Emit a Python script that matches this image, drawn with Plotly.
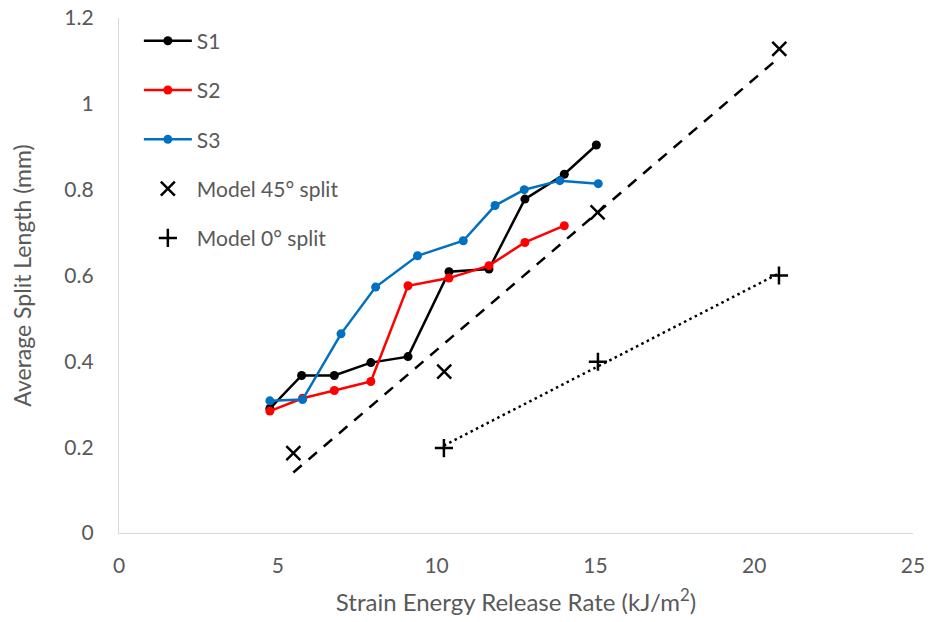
import numpy as np
import plotly.graph_objects as go

# ---- data ----
s1_x = [4.75, 5.75, 6.78, 7.93, 9.1, 10.39, 11.65, 12.78, 14.02, 15.03]
s1_y = [0.29, 0.367, 0.367, 0.397, 0.411, 0.609, 0.615, 0.778, 0.836, 0.904]

s2_x = [4.75, 5.78, 6.78, 7.93, 9.1, 10.39, 11.65, 12.78, 14.02]
s2_y = [0.284, 0.314, 0.332, 0.353, 0.576, 0.594, 0.623, 0.677, 0.716]

s3_x = [4.75, 5.78, 6.99, 8.08, 9.4, 10.84, 11.84, 12.76, 13.88, 15.09]
s3_y = [0.308, 0.311, 0.464, 0.573, 0.646, 0.681, 0.763, 0.8, 0.821, 0.814]

m45_x = [5.49, 10.24, 15.07, 20.79]
m45_y = [0.186, 0.376, 0.747, 1.128]

m0_x = [10.23, 15.08, 20.78]
m0_y = [0.198, 0.399, 0.6]

x_ticks = [0, 5, 10, 15, 20, 25]
y_ticks = [0, 0.2, 0.4, 0.6, 0.8, 1.0, 1.2]
y_tick_labels = ["0", "0.2", "0.4", "0.6", "0.8", "1", "1.2"]

FONT = "Lato"
GREY = "#595959"

fig = go.Figure()

def series(x, y, name, color):
    fig.add_trace(go.Scatter(
        x=x, y=y, name=name, mode="lines+markers", legendgroup=name,
        line=dict(color=color, width=2.5),
        marker=dict(symbol="circle", size=9, color=color),
    ))

series(s1_x, s1_y, "S1", "#000000")
series(s2_x, s2_y, "S2", "#FF0000")
series(s3_x, s3_y, "S3", "#0070C0")

# linear trendlines (least squares fit, like the spreadsheet trendline)
def trend(x, y):
    a, b = np.polyfit(np.array(x), np.array(y), 1)
    xs = np.array([min(x), max(x)])
    return xs, a * xs + b

tx, ty = trend(m45_x, m45_y)
fig.add_trace(go.Scatter(x=tx, y=ty, mode="lines", showlegend=False,
                         line=dict(color="black", width=2.5, dash="11px,9px"),
                         hoverinfo="skip"))
tx, ty = trend(m0_x, m0_y)
fig.add_trace(go.Scatter(x=tx, y=ty, mode="lines", showlegend=False,
                         line=dict(color="black", width=2.5, dash="2.5px,3.5px"),
                         hoverinfo="skip"))

fig.add_trace(go.Scatter(
    x=m45_x, y=m45_y, name="Model 45° split", mode="markers", legendgroup="m45",
    marker=dict(symbol="x-thin-open", size=14, color="black",
                line=dict(color="black", width=2.5)),
))
fig.add_trace(go.Scatter(
    x=m0_x, y=m0_y, name="Model 0° split", mode="markers", legendgroup="m0",
    marker=dict(symbol="cross-thin-open", size=13, color="black",
                line=dict(color="black", width=2.5)),
))

fig.update_layout(
    width=937, height=622,
    margin=dict(l=119, r=24, t=18, b=89, autoexpand=False),
    paper_bgcolor="white", plot_bgcolor="white",
    font=dict(family=FONT, size=21, color=GREY),
    showlegend=True,
    legend=dict(x=0.025, y=0.995, xanchor="left", yanchor="top",
                font=dict(family=FONT, size=21, color=GREY),
                tracegroupgap=19, itemwidth=48, bgcolor="rgba(0,0,0,0)"),
    xaxis=dict(range=[0, 25], tickvals=x_ticks, showgrid=False, zeroline=False,
               automargin=False, ticklabeloverflow="allow",
               showline=True, linecolor="#D9D9D9", linewidth=1.3, ticks="",
               ticklabelstandoff=14,
               tickfont=dict(family=FONT, size=21, color=GREY),
               title=dict(text="Strain Energy Release Rate (kJ/m<sup>2</sup>)",
                          font=dict(family=FONT, size=24, color=GREY), standoff=17)),
    yaxis=dict(range=[0, 1.2], tickvals=y_ticks, ticktext=y_tick_labels,
               showgrid=False, zeroline=False,
               automargin=False, ticklabeloverflow="allow",
               showline=True, linecolor="#D9D9D9", linewidth=1.3, ticks="",
               ticklabelstandoff=20,
               tickfont=dict(family=FONT, size=21, color=GREY),
               title=dict(text="Average Split Length (mm)",
                          font=dict(family=FONT, size=23, color=GREY), standoff=26)),
)

fig.write_html("out.html",
               config={"displayModeBar": False},
               post_script="document.body.style.margin='0';document.body.style.overflow='hidden';")
